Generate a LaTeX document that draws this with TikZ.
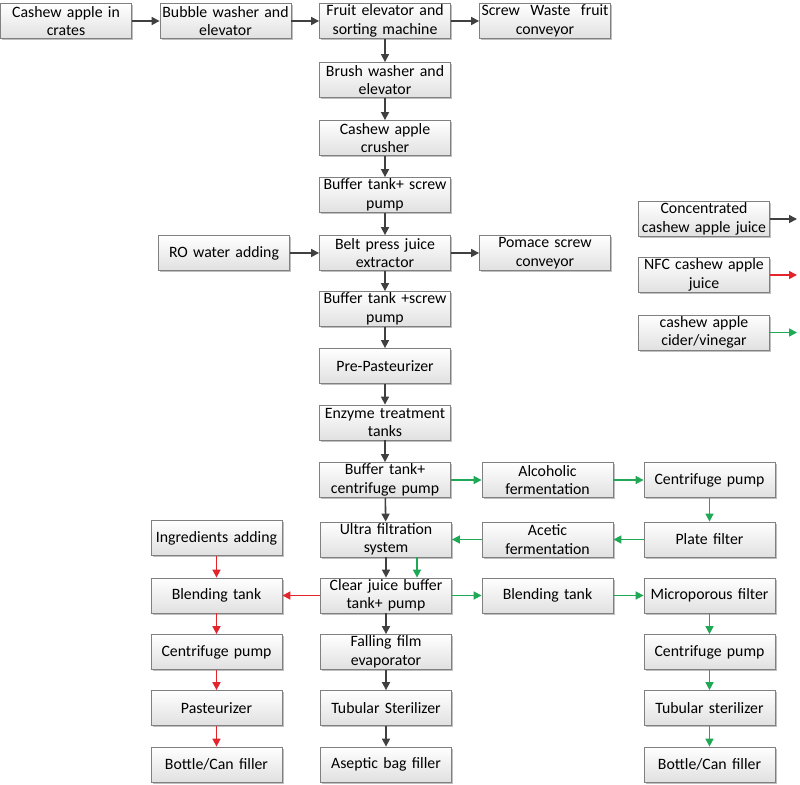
\documentclass[tikz,border=0pt]{standalone}
\usepackage{fontspec}
\setmainfont{Carlito}
\usepackage{xcolor}
\usetikzlibrary{arrows.meta}
\usetikzlibrary{shadows}

\definecolor{flowgray}{HTML}{404040}
\definecolor{flowred}{HTML}{E3242B}
\definecolor{flowgreen}{HTML}{1FA855}
\definecolor{boxline}{HTML}{808080}

\begin{document}
\begin{tikzpicture}[x=1pt,y=-1pt,
  unit/.style={draw=boxline, line width=0.8pt, top color=white, bottom color=black!12,
    minimum width=131pt, minimum height=35pt, text width=127pt, align=center, inner sep=0pt,
    font=\fontsize{15.8}{18.5}\selectfont,
    drop shadow={shadow xshift=1.5pt, shadow yshift=-1.5pt, opacity=0.25, fill=black}},
  flow/.style={line width=1.6pt, -{Triangle[length=8pt,width=8pt]}}]
\useasboundingbox (0,0) rectangle (800,784);

\node[unit] (crates) at (66,21) {Cashew apple in\\crates};
\node[unit] (bubble) at (225.5,21) {Bubble washer and\\elevator};
\node[unit] (sorter) at (385,21) {Fruit elevator and\\sorting machine};
\node[unit] (waste) at (545,21) {Screw\ \ Waste\ \ fruit\\conveyor};
\node[unit] (brush) at (385,80) {Brush washer and\\elevator};
\node[unit] (crusher) at (385,138) {Cashew apple\\crusher};
\node[unit] (buffer1) at (385,195) {Buffer tank+ screw\\pump};
\node[unit] (ro) at (224,253) {RO water adding};
\node[unit] (press) at (385,253) {Belt press juice\\extractor};
\node[unit] (pomace) at (545,253) {Pomace screw\\conveyor};
\node[unit] (buffer2) at (385,309) {Buffer tank +screw\\pump};
\node[unit] (prepast) at (385,366) {Pre-Pasteurizer};
\node[unit] (enzyme) at (385,422.5) {Enzyme treatment\\tanks};
\node[unit] (buffer3) at (385,480) {Buffer tank+\\centrifuge pump};
\node[unit] (ultra) at (386,539.5) {Ultra filtration\\system};
\node[unit] (clear) at (386,595.5) {Clear juice buffer\\tank+ pump};
\node[unit] (falling) at (386,652) {Falling film\\evaporator};
\node[unit] (tubular) at (386,708) {Tubular Sterilizer};
\node[unit] (aseptic) at (386,764.5) {Aseptic bag filler};

\node[unit] (ingred) at (216.5,538) {Ingredients adding};
\node[unit] (blendL) at (216.5,595.5) {Blending tank};
\node[unit] (centL) at (216.5,652) {Centrifuge pump};
\node[unit] (past) at (216.5,708) {Pasteurizer};
\node[unit] (bottleL) at (216.5,764.5) {Bottle/Can filler};

\node[unit] (alcohol) at (547.5,480) {Alcoholic\\fermentation};
\node[unit] (acetic) at (547.5,539.5) {Acetic\\fermentation};
\node[unit] (blendR) at (547.5,595.5) {Blending tank};

\node[unit] (centR1) at (709.5,480) {Centrifuge pump};
\node[unit] (plate) at (709.5,539.5) {Plate filter};
\node[unit] (micro) at (709.5,595.5) {Microporous filter};
\node[unit] (centR2) at (709.5,652) {Centrifuge pump};
\node[unit] (tubR) at (709.5,708) {Tubular sterilizer};
\node[unit] (bottleR) at (709.5,764.5) {Bottle/Can filler};

\node[unit] (legconc) at (704,219) {Concentrated\\cashew apple juice};
\node[unit] (legnfc) at (704,275) {NFC cashew apple\\juice};
\node[unit] (legcider) at (704,332.5) {cashew apple\\cider/vinegar};
\coordinate (concend) at (797,219);
\coordinate (nfcend) at (797,275);
\coordinate (ciderend) at (797,332.5);

\draw[flow, flowgray] (crates) -- (bubble);
\draw[flow, flowgray] (bubble) -- (sorter);
\draw[flow, flowgray] (sorter) -- (waste);
\draw[flow, flowgray] (sorter) -- (brush);
\draw[flow, flowgray] (brush) -- (crusher);
\draw[flow, flowgray] (crusher) -- (buffer1);
\draw[flow, flowgray] (buffer1) -- (press);
\draw[flow, flowgray] (ro) -- (press);
\draw[flow, flowgray] (press) -- (pomace);
\draw[flow, flowgray] (press) -- (buffer2);
\draw[flow, flowgray] (buffer2) -- (prepast);
\draw[flow, flowgray] (prepast) -- (enzyme);
\draw[flow, flowgray] (enzyme) -- (buffer3);
\draw[flow, flowgray] (buffer3) -- (ultra);
\draw[flow, flowgray] (ultra) -- (clear);
\draw[flow, flowgray] (clear) -- (falling);
\draw[flow, flowgray] (falling) -- (tubular);
\draw[flow, flowgray] (tubular) -- (aseptic);

\draw[flow, flowred] (clear) -- (blendL);
\draw[flow, flowred] (ingred) -- (blendL);
\draw[flow, flowred] (blendL) -- (centL);
\draw[flow, flowred] (centL) -- (past);
\draw[flow, flowred] (past) -- (bottleL);

\draw[flow, flowgreen] (buffer3) -- (alcohol);
\draw[flow, flowgreen] (alcohol) -- (centR1);
\draw[flow, flowgreen] (centR1) -- (plate);
\draw[flow, flowgreen] (plate) -- (acetic);
\draw[flow, flowgreen] (acetic) -- (ultra);
\draw[flow, flowgreen] ([xshift=31pt]ultra.south) -- ([xshift=31pt]clear.north);
\draw[flow, flowgreen] (clear) -- (blendR);
\draw[flow, flowgreen] (blendR) -- (micro);
\draw[flow, flowgreen] (micro) -- (centR2);
\draw[flow, flowgreen] (centR2) -- (tubR);
\draw[flow, flowgreen] (tubR) -- (bottleR);

\draw[flow, flowgray] (legconc) -- (concend);
\draw[flow, flowred] (legnfc) -- (nfcend);
\draw[flow, flowgreen] (legcider) -- (ciderend);
\end{tikzpicture}
\end{document}
